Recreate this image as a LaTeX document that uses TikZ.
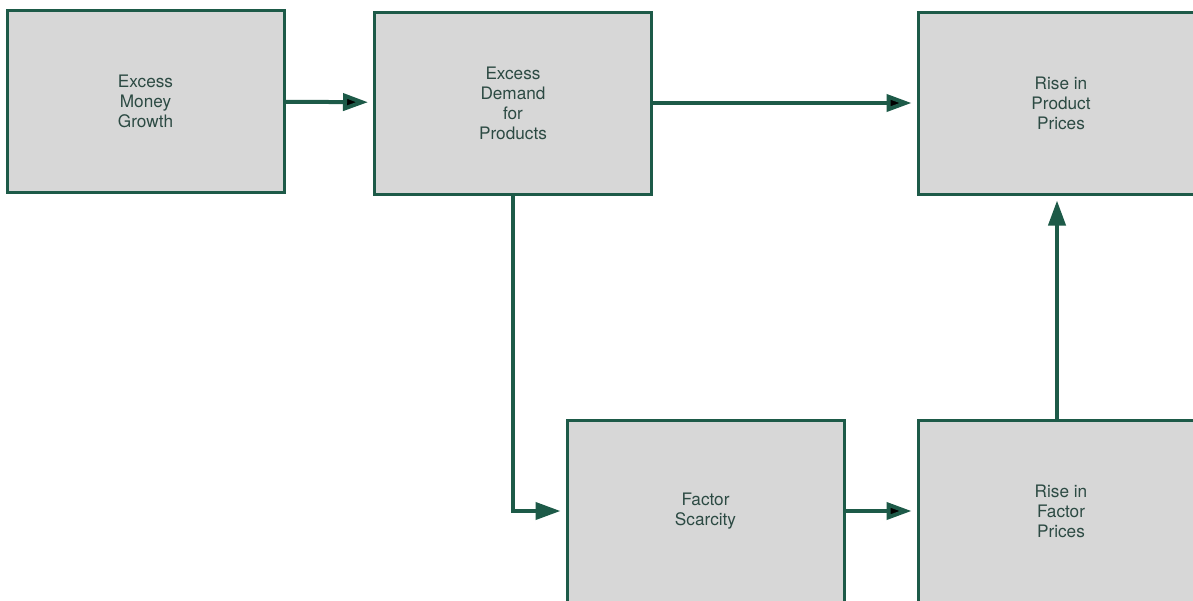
\documentclass[tikz,border=0pt]{standalone}
\usepackage{fontspec}
\setmainfont{TeX Gyre Heros}
\usetikzlibrary{positioning,arrows.meta}
\definecolor{boxgreen}{HTML}{1D5A48}
\definecolor{boxgray}{HTML}{D7D7D7}
\definecolor{textgreen}{HTML}{2C4A43}
\tikzset{main box/.style={rectangle,fill=boxgray,draw=boxgreen,line width=1.5pt,
    minimum width=138.5pt,minimum height=91pt,inner sep=0pt,align=center,
    text=textgreen,font=\fontsize{8.6}{10}\selectfont},
  flow/.style={draw=boxgreen,line width=2pt,shorten >=2.5pt,
    -{Triangle[length=12.5pt,width=8.5pt]}}}

\begin{document}
\begin{tikzpicture}[x=0.5pt,y=-0.5pt]
            \useasboundingbox (0,0) rectangle (1193,600);
            \node[main box] (money) at (145.5,101) {Excess\\Money\\Growth};
            \node[main box] (demand) at (513,103) {Excess\\Demand\\for\\Products};
            \node[main box, minimum width=143pt] (prodprice) at (1061,103) {Rise in\\Product\\Prices};
            \node[main box] (scarcity) at (705.5,511) {Factor\\Scarcity};
            \node[main box, minimum width=143pt] (factprice) at (1061,511) {Rise in\\Factor\\Prices};

            \path[flow]
            (money) edge (demand)
            (demand) edge (prodprice)
            (scarcity) edge (factprice);
            \draw[flow] ([xshift=-2pt]factprice.north) -- ([xshift=-2pt]prodprice.south);
            \draw[flow] (demand.south) |- (scarcity.west);
        \end{tikzpicture}
\end{document}
